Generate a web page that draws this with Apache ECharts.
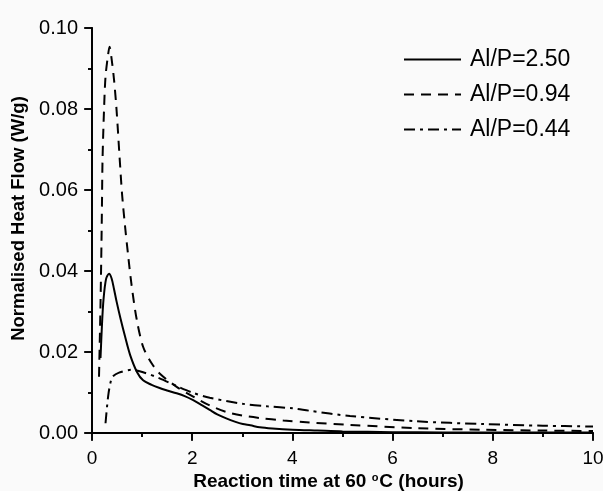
<!DOCTYPE html>
<html>
<head>
<meta charset="utf-8">
<script src="https://cdn.jsdelivr.net/npm/echarts@6/dist/echarts.min.js"></script>
<style>
html, body { margin: 0; padding: 0; background: #fafafa; }
#chart { width: 603px; height: 491px; }
</style>
</head>
<body>
<div id="chart"></div>
<script>
// Al/P=2.50 (solid)
var x250 = [0.17, 0.20, 0.23, 0.28, 0.34, 0.39, 0.44, 0.49, 0.57, 0.66, 0.76, 0.90, 1.02, 1.19, 1.35, 1.5, 1.69, 1.85, 2.02, 2.2, 2.35, 2.5, 2.68, 2.85, 3.01, 3.16, 3.35, 3.6, 4.0, 4.5, 5.0, 6.0, 7.0, 8.0, 9.0, 10.0];
var y250 = [0.0185, 0.0270, 0.0330, 0.0380, 0.0393, 0.0382, 0.0355, 0.0325, 0.0282, 0.0238, 0.0193, 0.0150, 0.0130, 0.0119, 0.0111, 0.0105, 0.0098, 0.0091, 0.0081, 0.0068, 0.0057, 0.0046, 0.0036, 0.0028, 0.0022, 0.0019, 0.0014, 0.0011, 0.0008, 0.0006, 0.0004, 0.0002, 0.00015, 0.0001, 0.0001, 0.0001];
// Al/P=0.94 (dashed)
var x094 = [0.14, 0.17, 0.19, 0.20, 0.21, 0.24, 0.27, 0.32, 0.35, 0.39, 0.44, 0.49, 0.55, 0.60, 0.66, 0.72, 0.79, 0.89, 1.02, 1.19, 1.35, 1.69, 2.02, 2.35, 2.68, 3.0, 3.35, 3.82, 4.34, 5.15, 6.48, 7.81, 9.0, 10.0];
var y094 = [0.0139, 0.032, 0.0477, 0.0575, 0.0674, 0.0798, 0.0880, 0.0933, 0.0954, 0.0925, 0.0872, 0.0798, 0.0682, 0.0590, 0.0510, 0.0440, 0.0365, 0.0282, 0.0213, 0.0172, 0.0147, 0.0114, 0.0090, 0.0068, 0.0052, 0.0043, 0.0037, 0.0031, 0.0026, 0.0020, 0.0012, 0.0008, 0.0006, 0.0005];
// Al/P=0.44 (dash-dot)
var x044 = [0.27, 0.30, 0.33, 0.37, 0.41, 0.54, 0.79, 1.02, 1.35, 1.69, 2.02, 2.35, 3.01, 3.5, 4.0, 4.34, 5.15, 6.48, 7.81, 9.0, 10.0];
var y044 = [0.0024, 0.0065, 0.0098, 0.0125, 0.0139, 0.0149, 0.0156, 0.0150, 0.0135, 0.0116, 0.0099, 0.0087, 0.0072, 0.0066, 0.0061, 0.0055, 0.0042, 0.0029, 0.0022, 0.0018, 0.0016];

function pairs(xs, ys) {
  var out = [];
  for (var i = 0; i < xs.length; i++) out.push([xs[i], ys[i]]);
  return out;
}

var chart = echarts.init(document.getElementById('chart'));
var font = 'Liberation Sans, Arial, sans-serif';
var axisLine = { show: true, lineStyle: { color: '#000', width: 1.8 } };
var tickStyle = { color: '#000', width: 1.6 };

var option = {
  backgroundColor: '#fafafa',
  animation: false,
  textStyle: { fontFamily: font },
  grid: { left: 92, right: 10, top: 28, bottom: 58, containLabel: false, outerBoundsMode: 'none' },
  legend: {
    orient: 'vertical',
    left: 403,
    top: 48,
    padding: 0,
    itemWidth: 57,
    itemHeight: 23,
    itemGap: 12,
    itemStyle: { opacity: 0 },
    textStyle: { fontSize: 23, lineHeight: 23, color: '#000', fontFamily: font, padding: [0, 0, 0, 4] },
    data: ['Al/P=2.50', 'Al/P=0.94', 'Al/P=0.44']
  },
  xAxis: [{
    type: 'value', min: 0, max: 10, interval: 2,
    axisLine: axisLine,
    axisTick: { show: true, inside: false, length: 8, lineStyle: tickStyle },
    minorTick: { show: true, splitNumber: 2, length: 4, lineStyle: tickStyle },
    splitLine: { show: false },
    axisLabel: { fontSize: 19, color: '#000', margin: 16 },
    name: 'Reaction time at 60 {sup|o}C (hours)',
    nameLocation: 'middle',
    nameGap: 39,
    nameMoveOverlap: false,
    nameTextStyle: {
      fontSize: 19, lineHeight: 20, fontWeight: 'bold', color: '#000', padding: [0, 28, 0, 0],
      rich: { sup: { fontSize: 11, lineHeight: 20, fontWeight: 'bold', verticalAlign: 'top', padding: [0, 1, 0, 0] } }
    }
  }, {
    type: 'value', min: 0, max: 10, interval: 2, position: 'top',
    axisLine: axisLine,
    axisTick: { show: true, inside: true, length: 7, lineStyle: tickStyle },
    minorTick: { show: true, splitNumber: 2, length: 4, lineStyle: tickStyle },
    splitLine: { show: false },
    axisLabel: { show: false }
  }],
  yAxis: [{
    type: 'value', min: 0, max: 0.1, interval: 0.02,
    axisLine: axisLine,
    axisTick: { show: true, inside: false, length: 8, lineStyle: tickStyle },
    minorTick: { show: true, splitNumber: 2, length: 4, lineStyle: tickStyle },
    splitLine: { show: false },
    axisLabel: { fontSize: 20, color: '#000', margin: 14, formatter: function (v) { return v.toFixed(2); } },
    name: 'Normalised Heat Flow (W/g)',
    nameLocation: 'middle',
    nameGap: 64,
    nameMoveOverlap: false,
    nameTextStyle: { fontSize: 18.5, fontWeight: 'bold', color: '#000', padding: [0, 0, 0, 24] }
  }, {
    type: 'value', min: 0, max: 0.1, interval: 0.02, position: 'right',
    axisLine: axisLine,
    axisTick: { show: true, inside: true, length: 7, lineStyle: tickStyle },
    minorTick: { show: true, splitNumber: 2, length: 4, lineStyle: tickStyle },
    splitLine: { show: false },
    axisLabel: { show: false }
  }],
  series: [{
    name: 'Al/P=2.50', type: 'line', smooth: 0.3, symbol: 'none',
    data: pairs(x250, y250),
    itemStyle: { color: '#000' },
    lineStyle: { color: '#000', width: 2, type: 'solid' }
  }, {
    name: 'Al/P=0.94', type: 'line', smooth: 0.3, symbol: 'none',
    data: pairs(x094, y094),
    itemStyle: { color: '#000' },
    lineStyle: { color: '#000', width: 2, type: [10, 7] }
  }, {
    name: 'Al/P=0.44', type: 'line', smooth: 0.3, symbol: 'none',
    data: pairs(x044, y044),
    itemStyle: { color: '#000' },
    lineStyle: { color: '#000', width: 2, type: [11, 5, 3, 5] }
  }]
};
chart.setOption(option);
</script>
</body>
</html>
